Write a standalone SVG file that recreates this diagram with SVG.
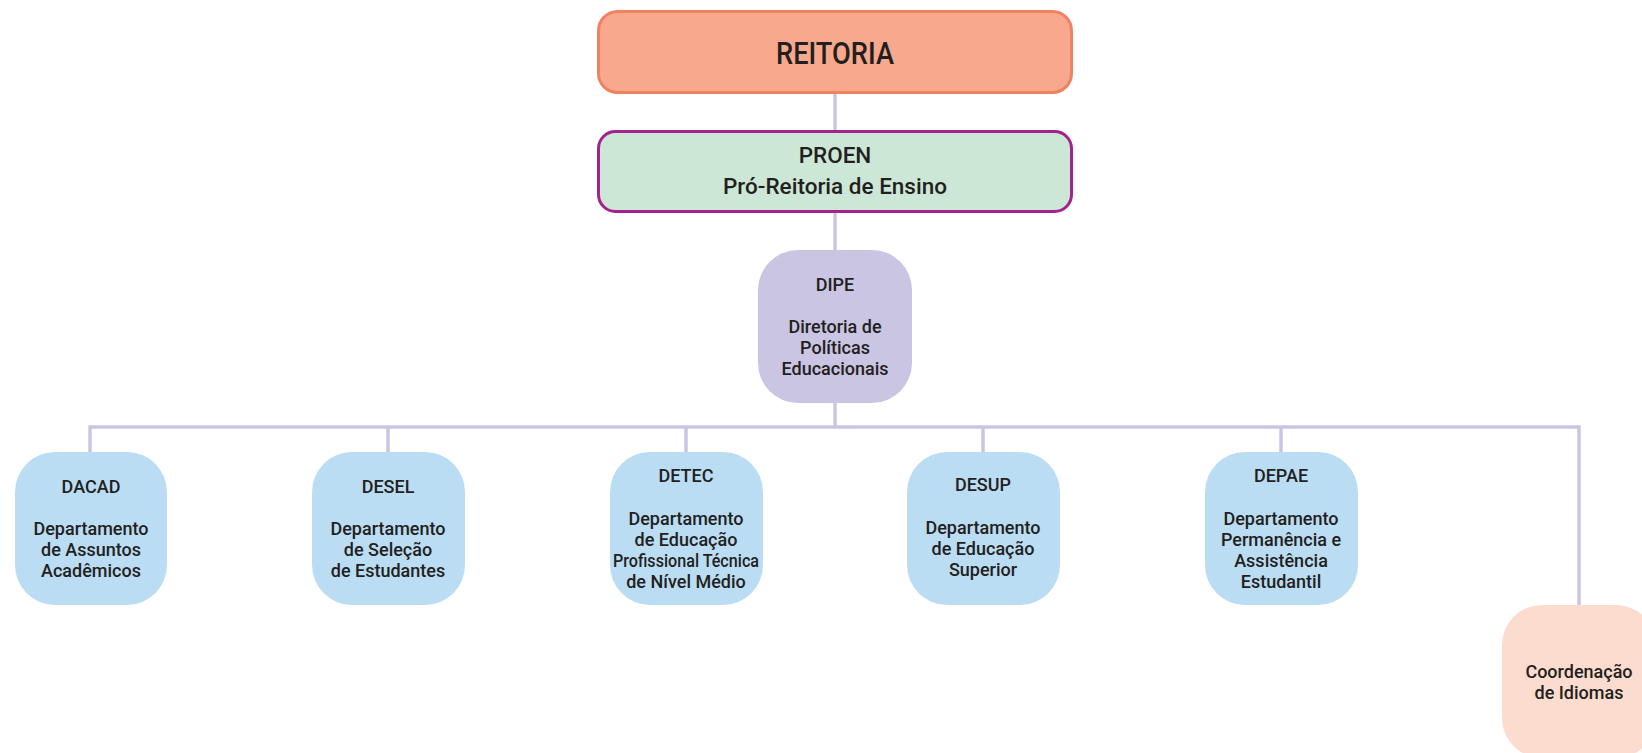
<svg xmlns="http://www.w3.org/2000/svg" width="1642" height="753" viewBox="0 0 1642 753">
<style>
.t{font-family:Roboto,"Liberation Sans",sans-serif;font-weight:500;fill:#231F20;text-anchor:middle}
.s{font-size:18px}
.blue{fill:#BADDF4}
.conn{stroke:#C9C5E3;stroke-width:3.5;fill:none}
</style>
<rect width="1642" height="753" fill="#FFFFFF"/>
<g id="connectors">
<path class="conn" d="M835 94V130M835 213V250M835 403V427M90 452V427H1579V605M388 427V452M686 427V452M983 427V452M1281 427V452"/>
</g>
<g id="reitoria">
<rect x="598.5" y="11.5" width="473" height="81" rx="19" fill="#F8A88C" stroke="#F08262" stroke-width="3"/>
<text class="t" x="835" y="64" font-size="30.5" textLength="118" lengthAdjust="spacingAndGlyphs">REITORIA</text>
</g>
<g id="proen">
<rect x="598.5" y="131.5" width="473" height="80" rx="17" fill="#CDE7D7" stroke="#A2238E" stroke-width="3"/>
<text class="t" x="835" y="163" font-size="22.5">PROEN</text>
<text class="t" x="835" y="194" font-size="22.5">Pró-Reitoria de Ensino</text>
</g>
<g id="dipe">
<rect x="758" y="250" width="154" height="153" rx="40" fill="#C9C5E3"/>
<text class="t s" x="835" y="291">DIPE</text>
<text class="t s" x="835" y="333">Diretoria de</text>
<text class="t s" x="835" y="354">Políticas</text>
<text class="t s" x="835" y="375">Educacionais</text>
</g>
<g id="dacad">
<rect class="blue" x="15" y="452" width="152" height="153" rx="40"/>
<text class="t s" x="91" y="493">DACAD</text>
<text class="t s" x="91" y="535">Departamento</text>
<text class="t s" x="91" y="556">de Assuntos</text>
<text class="t s" x="91" y="577">Acadêmicos</text>
</g>
<g id="desel">
<rect class="blue" x="312" y="452" width="153" height="153" rx="40"/>
<text class="t s" x="388" y="493">DESEL</text>
<text class="t s" x="388" y="535">Departamento</text>
<text class="t s" x="388" y="556">de Seleção</text>
<text class="t s" x="388" y="577">de Estudantes</text>
</g>
<g id="detec">
<rect class="blue" x="610" y="452" width="153" height="153" rx="40"/>
<text class="t s" x="686" y="482">DETEC</text>
<text class="t s" x="686" y="525">Departamento</text>
<text class="t s" x="686" y="546">de Educação</text>
<text class="t s" x="686" y="567" textLength="146" lengthAdjust="spacingAndGlyphs">Profissional Técnica</text>
<text class="t s" x="686" y="588">de Nível Médio</text>
</g>
<g id="desup">
<rect class="blue" x="907" y="452" width="153" height="153" rx="40"/>
<text class="t s" x="983" y="491">DESUP</text>
<text class="t s" x="983" y="534">Departamento</text>
<text class="t s" x="983" y="555">de Educação</text>
<text class="t s" x="983" y="576">Superior</text>
</g>
<g id="depae">
<rect class="blue" x="1205" y="452" width="153" height="153" rx="40"/>
<text class="t s" x="1281" y="482">DEPAE</text>
<text class="t s" x="1281" y="525">Departamento</text>
<text class="t s" x="1281" y="546">Permanência e</text>
<text class="t s" x="1281" y="567">Assistência</text>
<text class="t s" x="1281" y="588">Estudantil</text>
</g>
<g id="coordenacao">
<rect x="1502" y="605" width="154" height="153" rx="40" fill="#FCDCCE"/>
<text class="t s" x="1579" y="678">Coordenação</text>
<text class="t s" x="1579" y="699">de Idiomas</text>
</g>
</svg>
